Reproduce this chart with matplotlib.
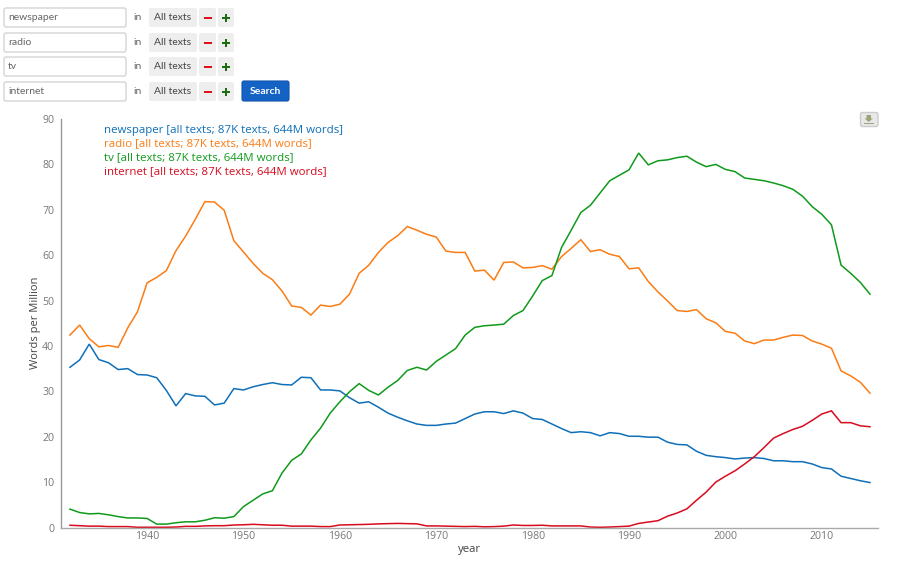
import matplotlib
matplotlib.use("Agg")
import matplotlib.pyplot as plt
from matplotlib.patches import FancyBboxPatch, Rectangle, Polygon

years = list(range(1932, 2016))

newspaper = [35.3, 36.9, 40.4, 37.0, 36.3, 34.8, 35.0, 33.7,
             33.6, 33.0, 30.2, 26.8, 29.5, 29.0, 28.9, 27.0, 27.4, 30.6,
             30.3, 31.0, 31.5, 31.9, 31.5, 31.4, 33.1, 33.0, 30.3, 30.3,
             30.1, 28.6, 27.4, 27.7, 26.5, 25.2, 24.3, 23.5, 22.8, 22.5,
             22.5, 22.8, 23.0, 24.0, 25.0, 25.5, 25.5, 25.1, 25.7, 25.2,
             24.0, 23.8, 22.8, 21.8, 20.9, 21.1, 20.9, 20.2, 20.9, 20.7,
             20.1, 20.1, 19.9, 19.9, 18.8, 18.3, 18.2, 16.8, 15.9, 15.6,
             15.4, 15.1, 15.3, 15.4, 15.2, 14.7, 14.7, 14.5, 14.5, 14.0,
             13.2, 12.9, 11.3, 10.8, 10.3, 9.9]
radio = [42.4, 44.6, 41.6, 39.8, 40.1, 39.7, 44.0, 47.5,
         53.9, 55.1, 56.6, 61.0, 64.2, 67.9, 71.8, 71.7, 69.9, 63.2,
         60.7, 58.2, 56.0, 54.6, 52.1, 48.8, 48.5, 46.8, 49.0, 48.7,
         49.2, 51.4, 56.0, 57.8, 60.6, 62.8, 64.3, 66.3, 65.5, 64.6,
         64.0, 60.9, 60.6, 60.6, 56.5, 56.7, 54.5, 58.4, 58.5, 57.2,
         57.3, 57.7, 56.9, 59.7, 61.5, 63.4, 60.8, 61.2, 60.2, 59.7,
         57.0, 57.2, 54.2, 51.9, 49.9, 47.8, 47.6, 48.0, 46.0, 45.1,
         43.2, 42.8, 41.1, 40.5, 41.3, 41.3, 41.9, 42.4, 42.3, 41.1,
         40.4, 39.5, 34.5, 33.4, 32.0, 29.6]
tv = [4.05, 3.3, 3.0, 3.1, 2.8, 2.4, 2.1, 2.1,
      2.0, 0.75, 0.75, 1.05, 1.25, 1.25, 1.6, 2.15, 2.05, 2.4,
      4.6, 6.0, 7.4, 8.1, 12.0, 14.8, 16.2, 19.3, 21.9, 25.2,
      27.7, 29.9, 31.7, 30.2, 29.2, 30.9, 32.4, 34.6, 35.3, 34.7,
      36.6, 38.0, 39.4, 42.4, 44.1, 44.45, 44.6, 44.8, 46.7, 47.8,
      51.0, 54.4, 55.5, 61.7, 65.5, 69.4, 71.0, 73.7, 76.4, 77.6,
      78.8, 82.5, 79.9, 80.8, 81.0, 81.5, 81.8, 80.5, 79.5, 80.0,
      78.9, 78.4, 77.0, 76.7, 76.4, 75.9, 75.3, 74.5, 73.0, 70.7,
      69.0, 66.7, 57.8, 56.0, 54.0, 51.4]
internet = [0.5, 0.4, 0.3, 0.3, 0.2, 0.2, 0.2, 0.05,
            0.05, 0.05, 0.05, 0.1, 0.25, 0.25, 0.35, 0.4, 0.4, 0.55,
            0.6, 0.7, 0.6, 0.5, 0.5, 0.3, 0.3, 0.3, 0.2, 0.2,
            0.55, 0.6, 0.65, 0.7, 0.8, 0.85, 0.9, 0.85, 0.8, 0.35,
            0.35, 0.3, 0.25, 0.2, 0.25, 0.15, 0.2, 0.3, 0.55, 0.45,
            0.45, 0.5, 0.35, 0.35, 0.35, 0.35, 0.1, 0.05, 0.1, 0.2,
            0.3, 0.9, 1.2, 1.5, 2.5, 3.2, 4.1, 6.0, 7.8, 10.0,
            11.3, 12.5, 14.0, 15.6, 17.6, 19.7, 20.7, 21.6, 22.3, 23.6,
            25.0, 25.7, 23.1, 23.1, 22.4, 22.2]

terms = ["newspaper", "radio", "tv", "internet"]
colors = ["#0f6fb8", "#fb7c14", "#0f9a1c", "#d80b1f"]
legend_suffix = " [all texts; 87K texts, 644M words]"
xticks = [1940, 1950, 1960, 1970, 1980, 1990, 2000, 2010]
yticks = [0, 10, 20, 30, 40, 50, 60, 70, 80, 90]

W, H = 900, 561
plt.rcParams["font.family"] = ["Open Sans", "DejaVu Sans"]

fig = plt.figure(figsize=(W / 100, H / 100), dpi=100)

# chart area, pixel box
ax = fig.add_axes([61 / W, 1 - 527.5 / H, (878 - 61) / W, (527.5 - 119) / H])
for series, c in zip([newspaper, radio, tv, internet], colors):
    ax.plot(years, series, color=c, lw=1.1, solid_joinstyle="miter", clip_on=False)

ax.set_xlim(1931.07, 2015.83)
ax.set_ylim(0, 90)
ax.set_xticks(xticks)
ax.set_yticks(yticks)
ax.tick_params(length=0, labelsize=7.6, labelcolor="#777777", pad=5)
ax.tick_params(axis="x", pad=2.5)
ax.set_xlabel("year", fontsize=8.2, color="#444444", labelpad=1.5)
ax.set_ylabel("Words per Million", fontsize=8, color="#444444", labelpad=1)
for side in ["top", "right"]:
    ax.spines[side].set_visible(False)
ax.spines["left"].set_color("#999999")
ax.spines["bottom"].set_color("#aaaaaa")
ax.spines["left"].set_linewidth(1)
ax.spines["bottom"].set_linewidth(1)

# overlay in pixel coords for the search form and the legend text
ui = fig.add_axes([0, 0, 1, 1], facecolor="none")
ui.set_xlim(0, W)
ui.set_ylim(H, 0)
ui.axis("off")


def box(x0, y0, x1, y1, fc, ec="none", lw=1.0, r=2):
    ui.add_patch(FancyBboxPatch((x0, y0), x1 - x0, y1 - y0,
                                boxstyle=f"round,pad=0,rounding_size={r}",
                                fc=fc, ec=ec, lw=lw))


row_tops = [8, 33, 57, 82]
for term, top in zip(terms, row_tops):
    mid = top + 9.5
    box(4, top, 126, top + 19, "white", "#d4d4d4", 1.0)
    ui.text(8, mid, term, fontsize=7.5, color="#666666", va="center", family="Lato")
    ui.text(137.5, mid, "in", fontsize=7.5, color="#666666", va="center", ha="center", family="Lato")
    box(149, top, 197, top + 19, "#eeeeee")
    ui.text(173, mid, "All texts", fontsize=7.5, color="#444444", va="center", ha="center", family="Lato")
    box(199, top, 216, top + 19, "#eeeeee")
    box(218, top, 234, top + 19, "#eeeeee")
    ui.add_patch(Rectangle((203.5, mid - 1), 8, 2.4, fc="#e0101c", ec="none"))
    ui.add_patch(Rectangle((222, mid - 0.6), 8, 2.4, fc="#1f6b12", ec="none"))
    ui.add_patch(Rectangle((224.8, mid - 3.4), 2.4, 8, fc="#1f6b12", ec="none"))

box(242, 81, 289, 101, "#1462c4", "#0f55ad", 0.8)
ui.text(265.5, 91, "Search", fontsize=7.5, color="white", va="center", ha="center",
        family="Lato", weight="bold")

# download button
box(860.5, 112.5, 878, 126.5, "#e8e8e8", "#cccccc", 1.0)
ui.add_patch(Polygon([[866.5, 115], [871, 115], [871, 118.5], [873, 118.5],
                      [868.7, 122], [864.5, 118.5], [866.5, 118.5]],
                     fc="#9aa67a", ec="none"))
ui.add_patch(Rectangle((864, 123), 9.5, 1.3, fc="#9aa67a", ec="none"))

legend_tops = [130, 143.5, 157.5, 171.5]
for term, c, y in zip(terms, colors, legend_tops):
    ui.text(104, y, term + legend_suffix, fontsize=8.25, color=c, va="center")

fig.savefig("out.png", dpi=100, facecolor="white")
